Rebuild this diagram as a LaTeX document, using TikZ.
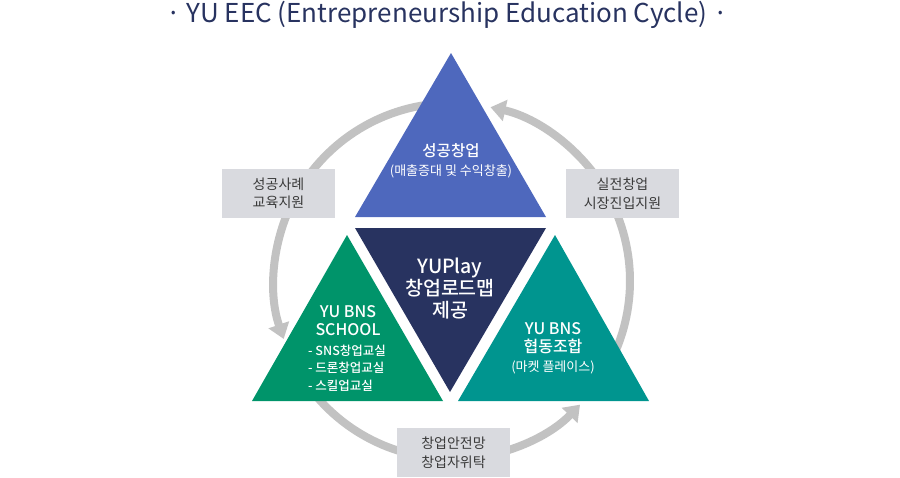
\documentclass[tikz,border=0pt]{standalone}
\usepackage{fontspec}
\setmainfont{Noto Sans CJK KR}
\newfontfamily\medfont{Noto Sans CJK KR Medium}
\usepackage{tikz}
\usetikzlibrary{arrows.meta}
\definecolor{titlenavy}{HTML}{283360}
\definecolor{topblue}{HTML}{4E68BD}
\definecolor{bnsgreen}{HTML}{00946A}
\definecolor{bnsteal}{HTML}{00958F}
\definecolor{cyclegray}{HTML}{C2C2C2}
\definecolor{boxgray}{HTML}{D9DADF}
\definecolor{boxtext}{HTML}{3A3A3A}

\begin{document}
\begin{tikzpicture}[x=1pt, y=-1pt,
	cyclearc/.style={color=cyclegray, line width=8pt, -{Triangle[width=21pt,length=15pt]}},
	supportbox/.style={fill=boxgray, text=boxtext, minimum width=113pt, minimum height=49pt, inner sep=0pt, align=center, font=\fontsize{14}{18.5}\selectfont},
	whitetext/.style={text=white, inner sep=0pt, align=center}]
	\useasboundingbox (0,0) rectangle (900,477);
	% title
	\node[text=titlenavy, anchor=base, font=\fontsize{26}{30}\selectfont] (title) at (447,22) {· YU EEC (Entrepreneurship Education Cycle) ·};
	% cycle arrows
	\coordinate (hub) at (452,281);
	\draw[cyclearc] (hub) ++(25:178) arc[start angle=25, end angle=-77.5, radius=178];
	\draw[cyclearc] (hub) ++(-95:178) arc[start angle=-95, end angle=-199, radius=178];
	\draw[cyclearc] (hub) ++(-215:178) arc[start angle=-215, end angle=-316, radius=178];
	% triangles
	\fill[topblue] (451,53) -- (546,217) -- (355,217) -- cycle;
	\fill[titlenavy] (355,228) -- (546,228) -- (450,392) -- cycle;
	\fill[bnsgreen] (347,235) -- (443,401) -- (252,401) -- cycle;
	\fill[bnsteal] (555,235) -- (649,401) -- (458,401) -- cycle;
	% triangle texts
	\node[whitetext, font=\medfont\fontsize{15.5}{17}\selectfont] (success) at (451,151) {성공창업};
	\node[whitetext, font=\fontsize{13}{14}\selectfont] (successsub) at (451,171) {(매출증대 및 수익창출)};
	\node[whitetext, font=\medfont\fontsize{19.5}{22}\selectfont] (roadmap) at (450,289) {YUPlay\\창업로드맵\\제공};
	\node[whitetext, font=\medfont\fontsize{16}{18.5}\selectfont] (school) at (348,320.5) {YU BNS\\SCHOOL};
	\node[whitetext, anchor=west, align=left, font=\medfont\fontsize{12.5}{17.5}\selectfont] (classes) at (308,368) {- SNS창업교실\\- 드론창업교실\\- 스킬업교실};
	\node[whitetext, font=\medfont\fontsize{16}{18.5}\selectfont] (coop) at (553,338) {YU BNS\\협동조합};
	\node[whitetext, font=\fontsize{13}{14}\selectfont] (coopsub) at (553,367) {(마켓 플레이스)};
	% support boxes
	\node[supportbox] (casebox) at (278.5,193.5) {성공사례\\교육지원};
	\node[supportbox] (marketbox) at (622.5,193.5) {실전창업\\시장진입지원};
	\node[supportbox] (safetybox) at (453.5,452.5) {창업안전망\\창업자위탁};
\end{tikzpicture}
\end{document}
